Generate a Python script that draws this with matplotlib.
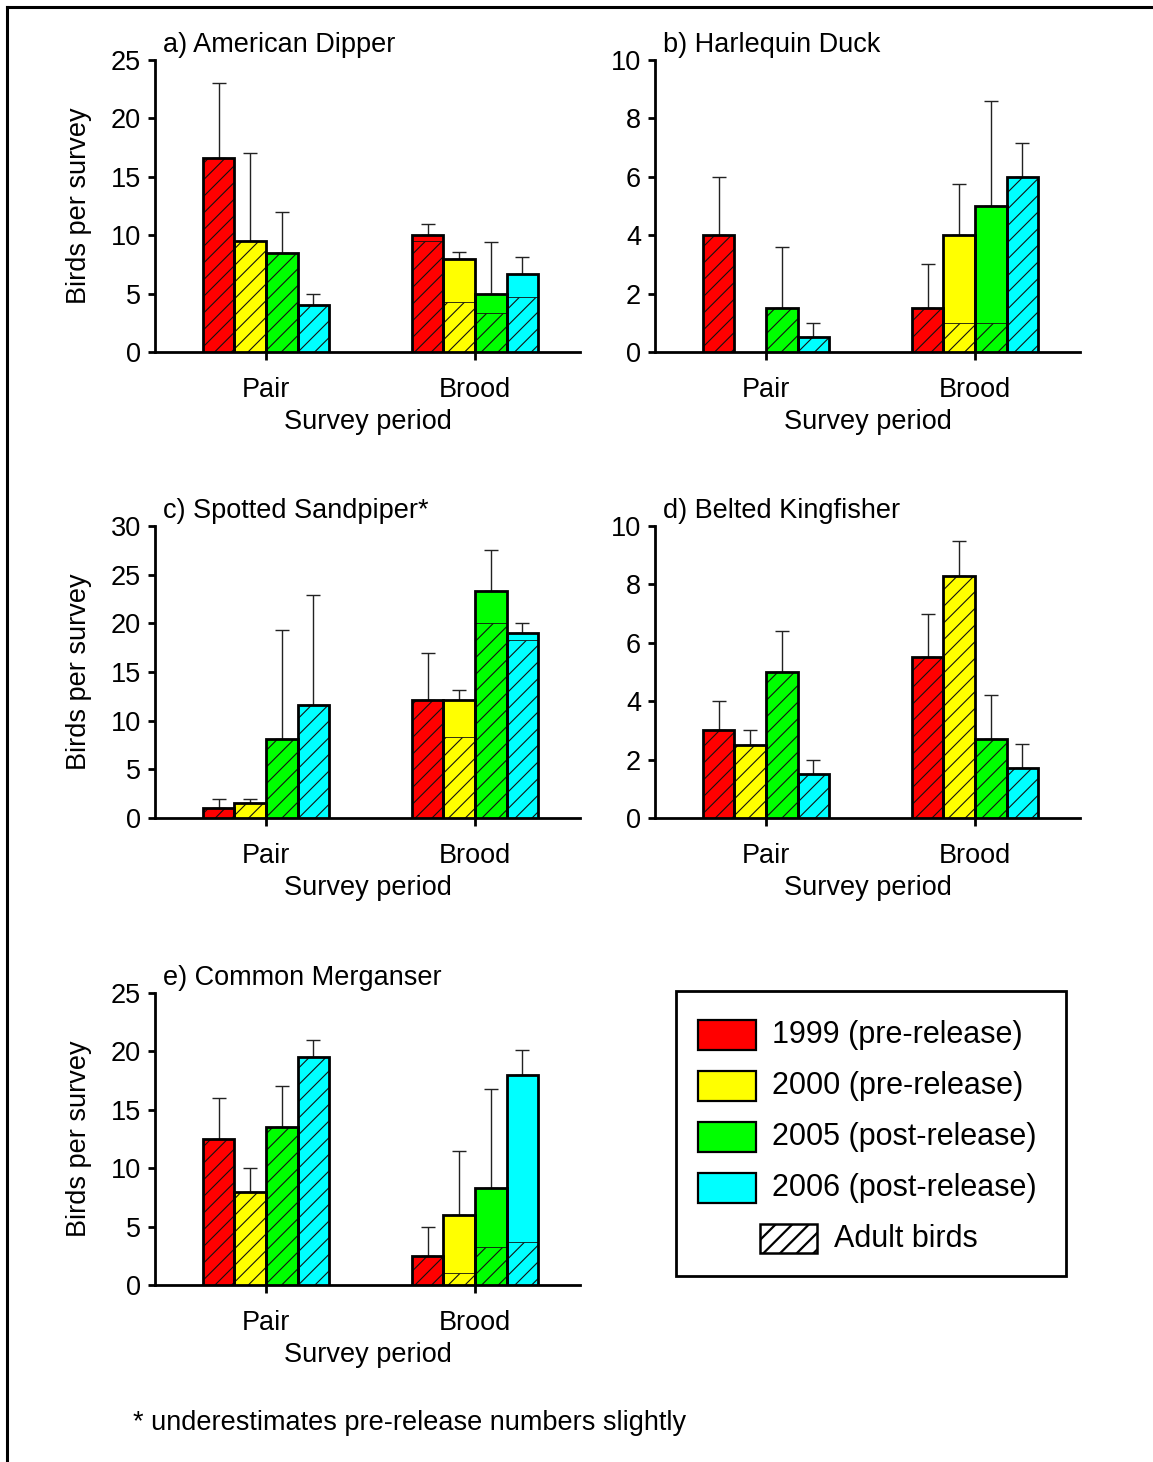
import numpy as np
import matplotlib.pyplot as plt
from matplotlib.patches import Rectangle
from matplotlib.lines import Line2D

plt.rcParams['font.family'] = ['Liberation Sans', 'DejaVu Sans']
plt.rcParams['hatch.linewidth'] = 0.8

anos = ['1999 (pre-release)', '2000 (pre-release)', '2005 (post-release)', '2006 (post-release)']
cores = ['#ff0000', '#ffff00', '#00ff00', '#00ffff']
periodos = ['Pair', 'Brood']

# totals, adults (hatched part) and upper error bar end, order: Pair x4, Brood x4
dipper_total = [16.6, 9.5, 8.5, 4.0, 10.0, 8.0, 5.0, 6.7]
dipper_adult = [16.6, 9.5, 8.5, 4.0, 9.5, 4.3, 3.3, 4.7]
dipper_err = [23.0, 17.0, 12.0, 5.0, 11.0, 8.6, 9.4, 8.1]

duck_total = [4.0, 0.0, 1.5, 0.5, 1.5, 4.0, 5.0, 6.0]
duck_adult = [4.0, 0.0, 1.5, 0.5, 1.5, 1.0, 1.0, 6.0]
duck_err = [6.0, 0.0, 3.6, 1.0, 3.0, 5.75, 8.6, 7.15]

sandpiper_total = [1.0, 1.5, 8.1, 11.6, 12.1, 12.1, 23.3, 19.0]
sandpiper_adult = [1.0, 1.5, 8.1, 11.6, 12.1, 8.3, 20.0, 18.3]
sandpiper_err = [2.0, 2.0, 19.3, 22.9, 17.0, 13.1, 27.5, 20.0]

kingfisher_total = [3.0, 2.5, 5.0, 1.5, 5.5, 8.3, 2.7, 1.7]
kingfisher_adult = [3.0, 2.5, 5.0, 1.5, 5.5, 8.3, 2.7, 1.7]
kingfisher_err = [4.0, 3.0, 6.4, 2.0, 7.0, 9.5, 4.2, 2.55]

merganser_total = [12.5, 8.0, 13.5, 19.5, 2.5, 6.0, 8.3, 18.0]
merganser_adult = [12.5, 8.0, 13.5, 19.5, 2.5, 1.0, 3.25, 3.7]
merganser_err = [16.0, 10.0, 17.0, 21.0, 5.0, 11.5, 16.8, 20.1]

W, H = 1153, 1462
FS = 19.5
fig = plt.figure(figsize=(W / 100, H / 100), dpi=100)

# frame lines (top and left only)
fig.add_artist(Line2D([7 / W, 1], [1 - 7 / H, 1 - 7 / H], color='black', lw=2.2, transform=fig.transFigure))
fig.add_artist(Line2D([7 / W, 7 / W], [0, 1 - 7 / H], color='black', lw=2.2, transform=fig.transFigure))


def painel(x0, ytop, titulo, total, adult, err, ymax, ystep):
    ax = fig.add_axes([x0 / W, 1 - (ytop + 292) / H, 425 / W, 292 / H])
    largura = 0.151
    for i in range(8):
        g = i // 4
        k = i % 4
        x = g + (k - 1.5) * largura
        t = total[i]
        a = adult[i]
        if t <= 0:
            continue
        ax.errorbar(x, t, yerr=[[0], [err[i] - t]], fmt='none', ecolor='#222222',
                    elinewidth=1.0, capsize=4.7, capthick=1.0, zorder=1)
        ax.bar(x, t, largura, color=cores[k], edgecolor='none', zorder=2)
        if a > 0:
            ax.bar(x, a, largura, color=cores[k], edgecolor='#111111', hatch='//',
                   linewidth=0.6, zorder=3)
        ax.bar(x, t, largura, fill=False, edgecolor='black', linewidth=2.0, zorder=4)
    ax.set_xlim(-0.531, 1.502)
    ax.set_ylim(0, ymax)
    ax.set_yticks(np.arange(0, ymax + 0.1, ystep))
    ax.set_xticks([0, 1])
    ax.set_xticklabels(periodos)
    ax.spines['top'].set_visible(False)
    ax.spines['right'].set_visible(False)
    ax.spines['left'].set_linewidth(2.0)
    ax.spines['bottom'].set_linewidth(2.0)
    ax.tick_params(axis='both', direction='out', width=2.0, labelsize=FS)
    ax.tick_params(axis='x', length=6, pad=12)
    ax.tick_params(axis='y', length=5, pad=5)
    ax.set_xlabel('Survey period', fontsize=FS, labelpad=4)
    ax.text(8 / 425, 1.0 + 2 / 292, titulo, transform=ax.transAxes, fontsize=FS,
            ha='left', va='bottom')
    return ax


a1 = painel(155, 60, 'a) American Dipper', dipper_total, dipper_adult, dipper_err, 25, 5)
a2 = painel(655, 60, 'b) Harlequin Duck', duck_total, duck_adult, duck_err, 10, 2)
a3 = painel(155, 526, 'c) Spotted Sandpiper*', sandpiper_total, sandpiper_adult, sandpiper_err, 30, 5)
a4 = painel(655, 526, 'd) Belted Kingfisher', kingfisher_total, kingfisher_adult, kingfisher_err, 10, 2)
a5 = painel(155, 993, 'e) Common Merganser', merganser_total, merganser_adult, merganser_err, 25, 5)

for ax in (a1, a3, a5):
    ax.set_ylabel('Birds per survey', fontsize=FS)
    ax.yaxis.set_label_coords(-63 / 425, 0.5)


# legend drawn by hand (the hatch entry is centred in the box)
def fig_rect(x, y, w, h, **kw):
    r = Rectangle((x / W, 1 - (y + h) / H), w / W, h / H,
                  transform=fig.transFigure, **kw)
    fig.add_artist(r)
    return r


fig_rect(676, 991, 390, 285, facecolor='white', edgecolor='black', linewidth=2.0)
for i, (c, rot) in enumerate(zip(cores, anos)):
    yc = 1035 + 51 * i
    fig_rect(698, yc - 15, 58, 30, facecolor=c, edgecolor='black', linewidth=1.6)
    fig.text(772 / W, 1 - yc / H, rot, fontsize=22, ha='left', va='center')
ph = fig_rect(760, 1224, 57, 29, facecolor='white', edgecolor='black', linewidth=1.8, hatch='//')
try:
    ph.set_hatch_linewidth(1.6)
except AttributeError:
    pass
fig.text(834 / W, 1 - 1239 / H, 'Adult birds', fontsize=22, ha='left', va='center')

fig.text(133 / W, 1 - 1423 / H, '* underestimates pre-release numbers slightly',
         fontsize=FS, ha='left', va='center')

fig.savefig('out.png', dpi=100)
